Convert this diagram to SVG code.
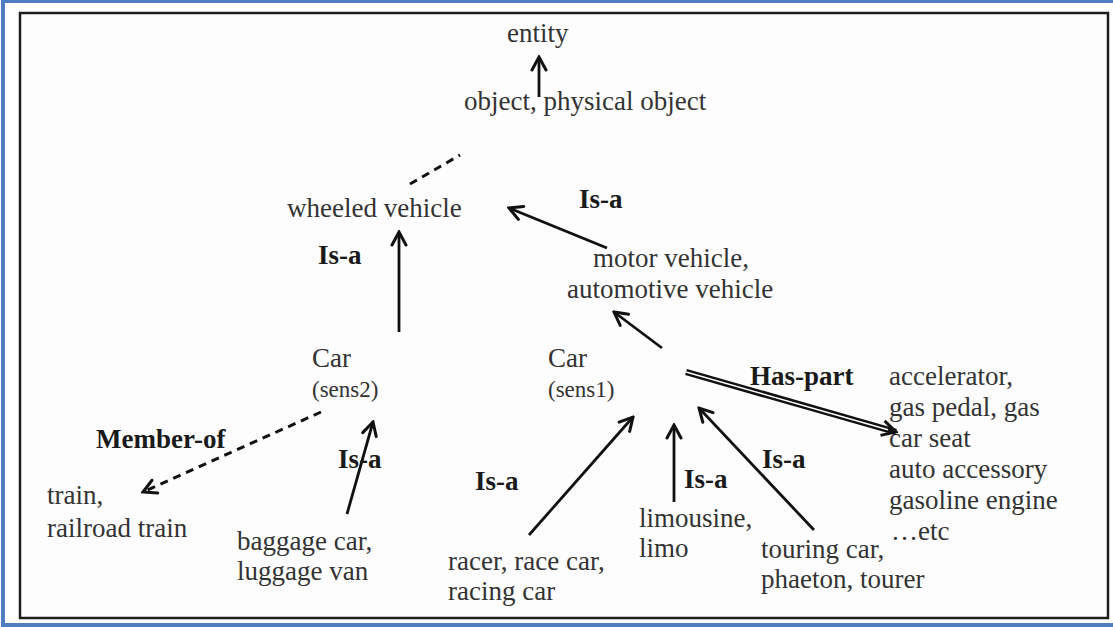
<svg xmlns="http://www.w3.org/2000/svg" width="1113" height="627" viewBox="0 0 1113 627">
  <style>
    .term { font-family: "Liberation Serif", "Times New Roman", serif; font-size: 27px; fill: #333333; }
    .sense { font-family: "Liberation Serif", "Times New Roman", serif; font-size: 23px; fill: #333333; }
    .rel { font-family: "Liberation Serif", "Times New Roman", serif; font-size: 27px; font-weight: bold; fill: #1a1a1a; }
    .edge { stroke: #111; stroke-width: 2.8; fill: none; }
    .dash { stroke: #111; stroke-width: 3; fill: none; stroke-dasharray: 8 6; }
  </style>
  <defs>
    <marker id="open" viewBox="0 0 18 18" refX="16" refY="9" markerWidth="18" markerHeight="18" markerUnits="userSpaceOnUse" orient="auto">
      <path d="M3,2 L16,9 L3,16" fill="none" stroke="#111" stroke-width="3" stroke-linecap="round" stroke-linejoin="miter"/>
    </marker>
    <marker id="openBig" viewBox="0 0 20 20" refX="18" refY="10" markerWidth="20" markerHeight="20" markerUnits="userSpaceOnUse" orient="auto">
      <path d="M4,2.5 L18,10 L4,17.5" fill="none" stroke="#111" stroke-width="3" stroke-linejoin="miter"/>
    </marker>
  </defs>

  <!-- page frame -->
  <rect x="0" y="0" width="1113" height="627" fill="#ffffff"/>
  <rect x="3" y="1" width="1125" height="624" fill="none" stroke="#4f7fc0" stroke-width="4"/>
  <rect x="20" y="13" width="1088" height="605" fill="#fdfdfd" stroke="#1e1e1e" stroke-width="2.5"/>

  <!-- nodes -->
  <g id="entity"><text class="term" x="507" y="42">entity</text></g>
  <g id="object"><text class="term" x="464" y="110">object, physical object</text></g>
  <g id="wheeled-vehicle"><text class="term" x="287" y="217">wheeled vehicle</text></g>
  <g id="motor-vehicle">
    <text class="term" x="593" y="267">motor vehicle,</text>
    <text class="term" x="567" y="298">automotive vehicle</text>
  </g>
  <g id="car-sens2">
    <text class="term" x="312" y="367">Car</text>
    <text class="sense" x="312" y="397">(sens2)</text>
  </g>
  <g id="car-sens1">
    <text class="term" x="548" y="367">Car</text>
    <text class="sense" x="548" y="397">(sens1)</text>
  </g>
  <g id="train">
    <text class="term" x="47" y="504">train,</text>
    <text class="term" x="47" y="537">railroad train</text>
  </g>
  <g id="baggage-car">
    <text class="term" x="237" y="550">baggage car,</text>
    <text class="term" x="237" y="580">luggage van</text>
  </g>
  <g id="racer">
    <text class="term" x="448" y="570">racer, race car,</text>
    <text class="term" x="448" y="600">racing car</text>
  </g>
  <g id="limousine">
    <text class="term" x="639" y="527">limousine,</text>
    <text class="term" x="639" y="557">limo</text>
  </g>
  <g id="touring-car">
    <text class="term" x="761" y="558">touring car,</text>
    <text class="term" x="761" y="588">phaeton, tourer</text>
  </g>
  <g id="parts">
    <text class="term" x="889" y="385">accelerator,</text>
    <text class="term" x="889" y="416">gas pedal, gas</text>
    <text class="term" x="889" y="447">car seat</text>
    <text class="term" x="889" y="478">auto accessory</text>
    <text class="term" x="889" y="509">gasoline engine</text>
    <text class="term" x="891" y="540">…etc</text>
  </g>

  <!-- connectors -->
  <g id="connectors">
    <line class="edge" x1="539" y1="97" x2="539" y2="57" marker-end="url(#open)"/>
    <line class="dash" x1="410" y1="184" x2="460" y2="155"/>
    <line class="edge" x1="399" y1="332" x2="399" y2="232" marker-end="url(#open)"/>
    <line class="edge" x1="607" y1="248" x2="509" y2="208" marker-end="url(#open)"/>
    <line class="edge" x1="662" y1="348" x2="614" y2="312" marker-end="url(#open)"/>
    <line class="dash" x1="321" y1="412" x2="143" y2="492" marker-end="url(#open)"/>
    <line class="edge" x1="347" y1="514" x2="373" y2="422" marker-end="url(#open)"/>
    <line class="edge" x1="529" y1="535" x2="633" y2="417" marker-end="url(#open)"/>
    <line class="edge" x1="674" y1="502" x2="674" y2="425" marker-end="url(#open)"/>
    <line class="edge" x1="814" y1="530" x2="699" y2="408" marker-end="url(#open)"/>
    <!-- has-part: double rule -->
    <line x1="686" y1="372" x2="896" y2="432" stroke="#111" stroke-width="6.5" marker-end="url(#openBig)"/>
    <line x1="686" y1="372" x2="888" y2="429.7" stroke="#fff" stroke-width="1.6"/>
  </g>

  <!-- relation labels -->
  <g id="labels">
    <text class="rel" x="579" y="208">Is-a</text>
    <text class="rel" x="318" y="264">Is-a</text>
    <text class="rel" x="750" y="385">Has-part</text>
    <text class="rel" x="96" y="448">Member-of</text>
    <text class="rel" x="338" y="468">Is-a</text>
    <text class="rel" x="475" y="490">Is-a</text>
    <text class="rel" x="684" y="488">Is-a</text>
    <text class="rel" x="762" y="468">Is-a</text>
  </g>
</svg>
